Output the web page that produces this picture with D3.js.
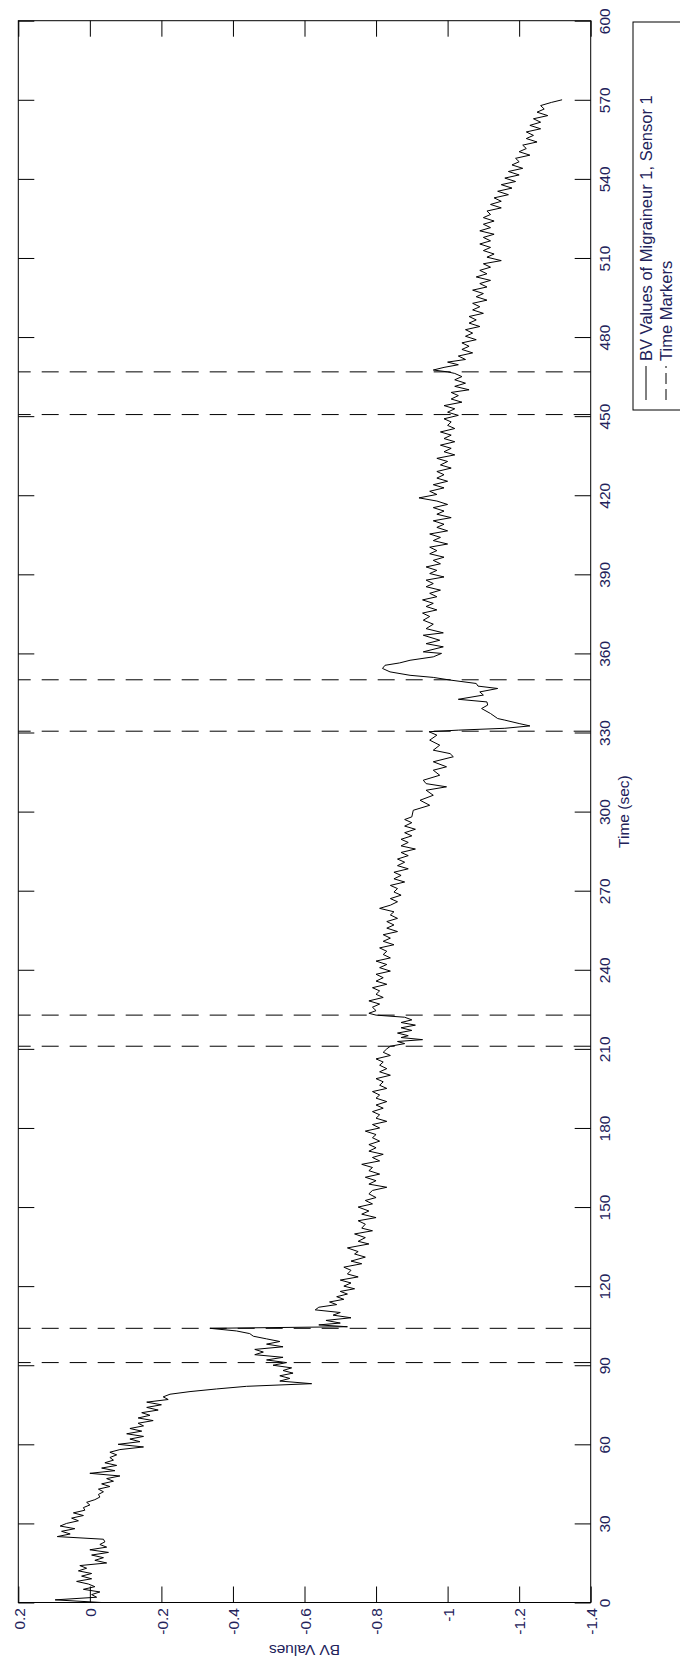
<!DOCTYPE html>
<html>
<head>
<meta charset="utf-8">
<script src="https://cdn.jsdelivr.net/npm/d3@7/dist/d3.min.js"></script>
<style>
  html, body { margin: 0; padding: 0; background: #fff; }
  svg { display: block; }
  text { font-family: "Liberation Sans", Arial, sans-serif; fill: #22225a; }
</style>
</head>
<body>
<svg id="chart" width="680" height="1662"></svg>
<script>
// BV recording, migraineur 1 / sensor 1: [time (s), BV value]
const bvSeries = [
  [0,-0.033],[1,0.097],[2,-0.019],[3,-0.005],[4,-0.028],[5,0.018],[6,-0.014],[7,0.004],[8,0.037],[9,-0.005],
  [10,0.023],[11,-0.005],[12,0.032],[13,0.009],[14,0.028],[15,-0.047],[16,-0.014],[17,-0.038],[18,-0.005],[19,-0.052],
  [20,0.000],[21,-0.047],[22,-0.028],[23,-0.042],[24,-0.038],[25,0.091],[26,0.055],[27,0.079],[28,0.042],[29,0.083],
  [30,0.065],[31,0.032],[32,0.051],[33,0.018],[34,0.046],[35,0.014],[36,0.018],[37,0.000],[38,0.009],[39,-0.014],
  [40,-0.028],[41,-0.024],[42,-0.038],[43,-0.024],[44,-0.056],[45,-0.033],[46,-0.066],[47,-0.047],[48,-0.084],[49,0.000],
  [50,-0.070],[51,-0.033],[52,-0.075],[53,-0.042],[54,-0.066],[55,-0.056],[56,-0.075],[57,-0.056],[58,-0.084],[59,-0.150],
  [60,-0.079],[61,-0.140],[62,-0.112],[63,-0.150],[64,-0.103],[65,-0.145],[66,-0.112],[67,-0.150],[68,-0.135],[69,-0.177],
  [70,-0.135],[71,-0.168],[72,-0.145],[73,-0.191],[74,-0.159],[75,-0.200],[76,-0.159],[77,-0.219],[78,-0.205],[79,-0.224],
  [80,-0.280],[81,-0.354],[82,-0.438],[83,-0.620],[84,-0.531],[85,-0.559],[86,-0.531],[87,-0.568],[88,-0.540],[89,-0.564],
  [90,-0.512],[91,-0.550],[92,-0.494],[93,-0.540],[94,-0.461],[95,-0.485],[96,-0.461],[97,-0.540],[98,-0.494],[99,-0.531],
  [100,-0.494],[101,-0.457],[102,-0.447],[103,-0.410],[104,-0.336],[104.6,-0.720],
  [105.3,-0.64],[106,-0.70],[107,-0.66],[108,-0.73],[109,-0.68],[110,-0.70],[111,-0.63],[112,-0.64],[113,-0.69],[114,-0.67],
  [115,-0.71],[116,-0.69],[117,-0.72],[118,-0.70],[119,-0.74],[120,-0.71],[121.2,-0.73],[122.3,-0.70],[123.5,-0.75],[124.6,-0.72],
  [126,-0.73],[127.2,-0.71],[128.5,-0.76],[129.5,-0.73],[131,-0.77],[132.2,-0.74],[133.1,-0.75],[134.5,-0.72],[136,-0.78],[137,-0.75],
  [138.4,-0.77],[139.8,-0.74],[141,-0.79],[142,-0.76],[143.5,-0.77],[144.8,-0.75],[146,-0.80],[147.3,-0.76],[148.5,-0.78],[150,-0.75],
  [151.2,-0.79],[152.5,-0.77],[153.6,-0.80],[155,-0.78],[156.3,-0.79],[157.5,-0.83],[158.7,-0.78],[160,-0.80],[161.3,-0.77],[162.5,-0.81],
  [163.8,-0.78],[165,-0.79],[166.2,-0.76],[167.5,-0.81],[168.8,-0.79],[170,-0.82],[171.2,-0.78],[172.5,-0.80],[173.7,-0.78],[175,-0.81],
  [176.3,-0.79],[177.5,-0.80],[178.8,-0.77],[180,-0.81],[181.3,-0.79],[182.5,-0.83],[183.7,-0.80],[185,-0.81],[186.2,-0.79],[187.5,-0.82],
  [188.7,-0.80],[190,-0.83],[191.3,-0.80],[192.5,-0.81],[193.8,-0.79],[195,-0.83],[196.2,-0.81],[197.5,-0.82],[198.7,-0.80],[200,-0.84],
  [201.3,-0.81],[202.5,-0.83],[203.8,-0.81],[205,-0.82],[206.2,-0.80],[207.5,-0.84],[208.7,-0.82],[210,-0.83],[211,-0.84],[212,-0.88],
  [212.8,-0.86],[213.5,-0.93],[214.3,-0.87],[215,-0.89],[216,-0.86],[217,-0.90],[218,-0.87],[219,-0.91],[220,-0.87],[221,-0.90],
  [222,-0.88],[222.8,-0.80],[223.5,-0.78],[224.5,-0.80],[225.8,-0.79],[227,-0.81],[228.2,-0.78],[229.5,-0.82],[230.7,-0.80],[232,-0.81],
  [233.2,-0.79],[234.5,-0.83],[235.7,-0.80],[237,-0.82],[238.3,-0.80],[239.5,-0.84],[240.8,-0.81],[242,-0.83],[243.3,-0.80],[244.5,-0.84],
  [245.8,-0.82],[247,-0.83],[248.3,-0.81],[249.5,-0.85],[250.8,-0.82],[252,-0.84],[253.3,-0.82],[254.5,-0.86],[255.8,-0.83],[257,-0.85],
  [258.3,-0.83],[259.5,-0.86],[260.8,-0.84],[262,-0.85],[263.3,-0.81],[264.5,-0.84],[265.8,-0.86],[267,-0.84],[268.3,-0.87],[269.5,-0.85],
  [270.8,-0.86],[272,-0.84],[273.3,-0.88],[274.5,-0.85],[275.8,-0.87],[277,-0.85],[278.3,-0.89],[279.5,-0.86],[280.8,-0.88],[282,-0.86],
  [283.3,-0.89],[284.5,-0.87],[285.8,-0.91],[287,-0.87],[288.3,-0.89],[289.5,-0.87],[290.8,-0.90],[292,-0.88],[293.3,-0.91],[294.5,-0.88],
  [295.8,-0.90],[297,-0.88],
  [298,-0.900],[300.5,-0.904],[302.4,-0.950],[304.3,-0.923],[306.2,-0.960],[308.1,-0.940],[309.4,-0.997],[310.6,-0.940],[311.9,-0.932],[313.8,-0.978],
  [315.7,-0.960],[317,-0.997],[318.9,-0.960],[320.8,-1.016],[322,-1.007],[323.3,-0.960],[325.2,-0.978],[327.1,-0.950],[329,-0.970],[330.3,-0.948],
  [330.9,-1.030],[331.6,-1.160],[332.5,-1.230],[333.4,-1.200],[334.7,-1.160],[335.3,-1.140],[337.2,-1.120],[339.1,-1.095],[340.4,-1.112],[341.6,-1.110],
  [342.6,-1.030],[344.2,-1.100],[345.4,-1.090],[346.7,-1.140],[347.6,-1.085],[348.6,-1.080],[349.9,-1.007],[350.9,-0.960],[351.7,-0.895],[353,-0.839],
  [354.3,-0.818],[355.5,-0.825],[356.4,-0.866],[357.4,-0.895],[358.7,-0.960],[360,-0.983],[360.6,-0.932],[362.5,-0.988],[363.7,-0.940],[365,-0.978],
  [366.9,-0.932],[367.8,-0.988],[369.4,-0.940],[371.1,-0.960],[372.6,-0.932],[374,-0.95],[375.3,-0.93],[376.5,-0.97],[377.8,-0.94],[379,-0.96],
  [380.3,-0.93],[381.5,-0.97],[382.8,-0.95],[384,-0.98],[385.3,-0.94],[386.5,-0.96],[387.8,-0.94],[389,-0.99],[390.3,-0.95],[391.5,-0.97],
  [392.8,-0.94],[394,-0.98],[395.3,-0.96],[396.5,-0.99],[397.8,-0.95],[399,-0.97],[400.3,-0.95],[401.5,-1.00],[402.8,-0.96],[404,-0.98],
  [405.3,-0.95],[406.5,-1.00],[407.8,-0.97],[409,-0.99],[410.3,-0.96],[411.5,-1.01],[412.8,-0.97],[414,-0.99],[415.3,-0.96],[416.5,-1.00],
  [417.8,-0.97],[419,-0.92],[420.3,-0.97],[421.5,-0.95],[422.8,-0.99],[424,-0.96],[425.3,-1.00],[426.5,-0.97],[427.8,-0.99],[429,-0.97],
  [430.3,-1.01],[431.5,-0.98],[432.8,-1.00],[434,-0.97],[435.3,-1.02],[436.5,-0.99],[437.8,-1.01],[439,-0.98],[440.3,-1.02],[441.5,-0.99],
  [442.8,-1.01],[444,-0.98],[445.3,-1.02],[446.5,-1.00],[447.8,-1.01],[449,-0.99],[450.3,-1.03],[451.5,-1.00],[452.8,-1.02],[454,-0.99],
  [455.3,-1.04],[456.5,-1.01],[457.8,-1.03],[459,-1.01],[460,-1.06],[461.3,-1.02],[462.5,-1.05],[463.8,-1.02],[465,-1.04],[466.2,-1.02],
  [466.8,-1.00],[467.5,-0.96],[468.5,-0.99],[469.5,-1.03],[470.5,-1.00],[471.5,-1.05],[472.8,-1.03],[474,-1.07],[475.3,-1.04],[476.5,-1.06],
  [477.8,-1.04],[479,-1.08],[480.3,-1.05],[481.5,-1.07],[482.8,-1.05],[484,-1.09],[485.3,-1.06],[486.5,-1.08],[487.8,-1.06],[489,-1.10],
  [490.3,-1.07],[491.5,-1.09],[492.8,-1.07],[494,-1.11],[495.3,-1.08],[496.5,-1.10],[497.8,-1.07],[499,-1.11],[500.3,-1.09],[501.5,-1.12],
  [502.8,-1.08],[504,-1.11],[505.3,-1.09],[506.5,-1.12],[507.8,-1.10],[509,-1.15],[510.3,-1.11],[511.5,-1.13],[512.8,-1.10],[514,-1.12],
  [515.3,-1.09],[516.5,-1.12],[517.8,-1.10],[519,-1.13],[520.3,-1.09],[521.5,-1.12],[522.8,-1.10],[524,-1.13],[525.3,-1.10],[526.5,-1.12],
  [527.8,-1.11],[529,-1.15],[530.3,-1.12],[531.5,-1.15],[532.8,-1.13],[534,-1.17],[535.3,-1.14],[536.5,-1.18],[537.8,-1.15],[539,-1.19],
  [540.3,-1.16],[541.5,-1.20],[542.8,-1.17],[544,-1.21],[545.3,-1.18],[546.5,-1.20],[547.8,-1.19],[549,-1.23],[550.3,-1.20],[551.5,-1.22],
  [552.8,-1.21],[554,-1.25],[555.3,-1.22],[556.5,-1.24],[557.8,-1.22],[559,-1.26],[560.3,-1.23],[561.5,-1.26],[562.8,-1.24],[564,-1.28],
  [565.3,-1.25],[566.5,-1.27],[567.8,-1.26],[569,-1.29],[570,-1.32]
];

// Event markers (seconds)
const markerTimes = [91, 104, 211, 222.8, 330.5, 350, 450.6, 466.8];

// Axis ticks and labels
const timeTicks = [0,30,60,90,120,150,180,210,240,270,300,330,360,390,420,450,480,510,540,570,600];
const bvTicks = [0.2,0,-0.2,-0.4,-0.6,-0.8,-1,-1.2,-1.4];
const bvTickLabels = ["0.2","0","-0.2","-0.4","-0.6","-0.8","-1","-1.2","-1.4"];
const axisTitles = { value: "BV Values", time: "Time (sec)" };
const legendLabels = ["BV Values of Migraineur 1, Sensor 1", "Time Markers"];

const svg = d3.select("#chart");

// Plot frame: time runs bottom-to-top along the right edge, BV values left-to-right
const plotL = 18.3, plotR = 590.7, plotT = 20.7, plotB = 1602.5;
const tScale = d3.scaleLinear().domain([0, 600]).range([plotB, plotT]);
const vScale = d3.scaleLinear().domain([0.2, -1.4]).range([plotL, plotR]);

const tickLen = 16;
const dash = "17,11";

// Frame box
svg.append("rect")
  .attr("x", plotL).attr("y", plotT)
  .attr("width", plotR - plotL).attr("height", plotB - plotT)
  .attr("fill", "none").attr("stroke", "#000").attr("stroke-width", 1);

// Time axis (right) with rotated labels
const timeAxis = svg.append("g")
  .attr("transform", `translate(${plotR},0)`)
  .call(d3.axisRight(tScale).tickValues(timeTicks).tickSizeInner(-tickLen).tickSizeOuter(0).tickFormat(d3.format("d")));
timeAxis.select(".domain").remove();
timeAxis.selectAll(".tick line").attr("stroke", "#000");
timeAxis.selectAll(".tick text")
  .attr("x", null).attr("dy", null)
  .attr("text-anchor", "middle")
  .attr("font-size", 15.5)
  .attr("transform", "translate(19.5,0) rotate(-90)");

// Mirror ticks on the left edge
const timeAxisL = svg.append("g")
  .attr("transform", `translate(${plotL},0)`)
  .call(d3.axisLeft(tScale).tickValues(timeTicks).tickSizeInner(-tickLen).tickSizeOuter(0).tickFormat(""));
timeAxisL.select(".domain").remove();
timeAxisL.selectAll(".tick line").attr("stroke", "#000");

// Value axis (bottom) with rotated labels
const valueAxis = svg.append("g")
  .attr("transform", `translate(0,${plotB})`)
  .call(d3.axisBottom(vScale).tickValues(bvTicks).tickSizeInner(-tickLen).tickSizeOuter(0)
    .tickFormat((d, i) => bvTickLabels[i]));
valueAxis.select(".domain").remove();
valueAxis.selectAll(".tick line").attr("stroke", "#000");
valueAxis.selectAll(".tick text")
  .attr("y", null).attr("dy", null)
  .attr("text-anchor", "end")
  .attr("font-size", 15.5)
  .attr("transform", "translate(5.8,5.5) rotate(-90)");

// Mirror ticks on the top edge
const valueAxisT = svg.append("g")
  .attr("transform", `translate(0,${plotT})`)
  .call(d3.axisTop(vScale).tickValues(bvTicks).tickSizeInner(-tickLen).tickSizeOuter(0).tickFormat(""));
valueAxisT.select(".domain").remove();
valueAxisT.selectAll(".tick line").attr("stroke", "#000");

// Axis titles
svg.append("text")
  .attr("transform", `translate(${(plotL + plotR) / 2},1645) rotate(180)`)
  .attr("text-anchor", "middle")
  .attr("font-size", 15.5)
  .text(axisTitles.value);
svg.append("text")
  .attr("transform", `translate(629,${(plotT + plotB) / 2}) rotate(-90)`)
  .attr("text-anchor", "middle")
  .attr("font-size", 15.5)
  .text(axisTitles.time);

// Time marker lines
svg.append("g").selectAll("line")
  .data(markerTimes)
  .join("line")
  .attr("x1", vScale(-1.4)).attr("x2", vScale(0.2))
  .attr("y1", d => tScale(d)).attr("y2", d => tScale(d))
  .attr("stroke", "#000").attr("stroke-width", 1)
  .attr("stroke-dasharray", dash);

// BV trace
const trace = d3.line()
  .x(d => vScale(d[1]))
  .y(d => tScale(d[0]));
svg.append("path")
  .datum(bvSeries)
  .attr("d", trace)
  .attr("fill", "none")
  .attr("stroke", "#000")
  .attr("stroke-width", 1)
  .attr("stroke-linejoin", "round");

// Legend
const lg = svg.append("g");
lg.append("rect")
  .attr("x", 633).attr("y", 22)
  .attr("width", 80).attr("height", 388)
  .attr("fill", "#fff").attr("stroke", "#000").attr("stroke-width", 1);
const rows = [
  { x: 646, dashed: false },
  { x: 666, dashed: true }
];
rows.forEach((r, i) => {
  lg.append("line")
    .attr("x1", r.x).attr("x2", r.x)
    .attr("y1", 400).attr("y2", 366)
    .attr("stroke", "#000").attr("stroke-width", 1)
    .attr("stroke-dasharray", r.dashed ? "11,5" : null);
  lg.append("text")
    .attr("transform", `translate(${r.x + 6},361) rotate(-90)`)
    .attr("text-anchor", "start")
    .attr("font-size", 16.5)
    .text(legendLabels[i]);
});
</script>
</body>
</html>
